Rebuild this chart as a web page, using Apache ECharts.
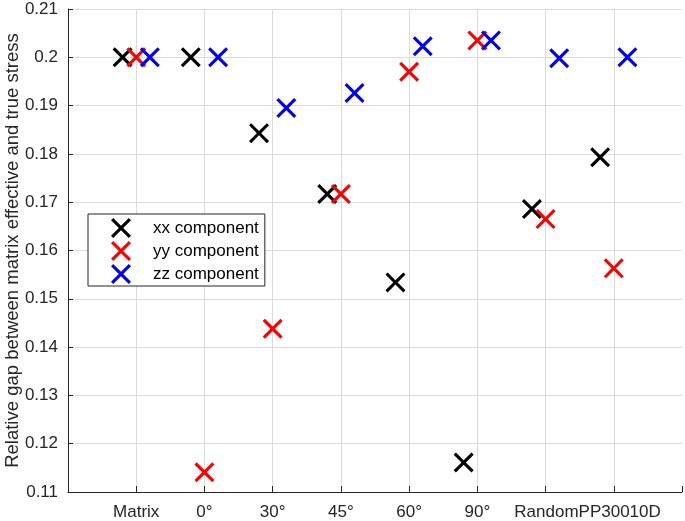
<!DOCTYPE html>
<html>
<head>
<meta charset="utf-8">
<script src="https://cdn.jsdelivr.net/npm/echarts@6/dist/echarts.min.js"></script>
<style>
html,body{margin:0;padding:0;background:#fff;}
#c{width:685px;height:521px;}
</style>
</head>
<body>
<div id="c"></div>
<script>
// tick labels for x positions 1..8 (8th group unlabeled)
var xTickLabels = ['Matrix', '0°', '30°', '45°', '60°', '90°', 'RandomPP30010D', ''];
var seriesNames = ['xx component', 'yy component', 'zz component'];
// x positions of the markers (group index with small offsets)
var xxX = [0.8, 1.8, 2.8, 3.8, 4.8, 5.8, 6.8, 7.8];
var yyX = [1.0, 2.0, 3.0, 4.0, 5.0, 6.0, 7.0, 8.0];
var zzX = [1.2, 2.2, 3.2, 4.2, 5.2, 6.2, 7.2, 8.2];
// values
var xxY = [0.2000, 0.2000, 0.1843, 0.1717, 0.1534, 0.1161, 0.1686, 0.1793];
var yyY = [0.2000, 0.1141, 0.1438, 0.1717, 0.1970, 0.2035, 0.1665, 0.1563];
var zzY = [0.2000, 0.2000, 0.1895, 0.1926, 0.2023, 0.2035, 0.1998, 0.2000];

var colors = ['#000000', '#ff0000', '#0000ff'];
var xPath = 'path://M0,2.2 L2.2,0 L10,7.8 L17.8,0 L20,2.2 L12.2,10 L20,17.8 L17.8,20 L10,12.2 L2.2,20 L0,17.8 L7.8,10 Z';

function pairs(xs, ys) { return xs.map(function (x, i) { return [x, ys[i]]; }); }
var allX = [xxX, yyX, zzX], allY = [xxY, yyY, zzY];

var chart = echarts.init(document.getElementById('c'));
chart.setOption({
  animation: false,
  textStyle: { fontFamily: 'Liberation Sans, Arial, sans-serif' },
  grid: { left: 68, right: 3, top: 9, bottom: 29, containLabel: false, outerBoundsMode: 'none' },
  legend: {
    orient: 'vertical',
    left: 88, top: 214,
    backgroundColor: '#fff',
    borderColor: '#262626', borderWidth: 1,
    padding: [4, 6, 2, 23],
    itemWidth: 20, itemHeight: 20, itemGap: 3,
    textStyle: { fontSize: 17, color: '#000', padding: [0, 0, 0, 17] },
    data: seriesNames.map(function (n) { return { name: n, icon: xPath }; })
  },
  xAxis: {
    type: 'value', min: 0, max: 9, interval: 1,
    axisLine: { show: true, onZero: false, lineStyle: { color: '#262626', width: 1 } },
    axisTick: { show: true, inside: true, length: 6, lineStyle: { color: '#262626' } },
    axisLabel: {
      fontSize: 17, color: '#262626', margin: 12,
      formatter: function (v) {
        var i = Math.round(v);
        if (i === 7) return '{r|' + xTickLabels[6] + '}';
        return (i >= 1 && i <= xTickLabels.length) ? xTickLabels[i - 1] : '';
      },
      rich: { r: { fontSize: 17, color: '#262626', padding: [0, 0, 0, 84] } }
    },
    splitLine: { show: true, showMinLine: false, showMaxLine: false, lineStyle: { color: '#dcdcdc', width: 1 } }
  },
  yAxis: {
    type: 'value', min: 0.11, max: 0.21, interval: 0.01,
    name: 'Relative gap between matrix effective and true stress',
    nameLocation: 'middle', nameGap: 46, nameMoveOverlap: false,
    nameTextStyle: { fontSize: 18.5, color: '#262626' },
    axisLine: { show: true, lineStyle: { color: '#262626', width: 1 } },
    axisTick: { show: true, inside: true, length: 5, lineStyle: { color: '#262626' } },
    axisLabel: {
      fontSize: 17, color: '#262626', margin: 10,
      formatter: function (v) { return String(+v.toFixed(2)); }
    },
    splitLine: { show: true, showMinLine: false, lineStyle: { color: '#dcdcdc', width: 1 } }
  },
  series: seriesNames.map(function (n, k) {
    return {
      name: n, type: 'scatter',
      symbol: xPath, symbolSize: 20,
      itemStyle: { color: colors[k], opacity: 1 },
      data: pairs(allX[k], allY[k])
    };
  })
});
</script>
</body>
</html>
